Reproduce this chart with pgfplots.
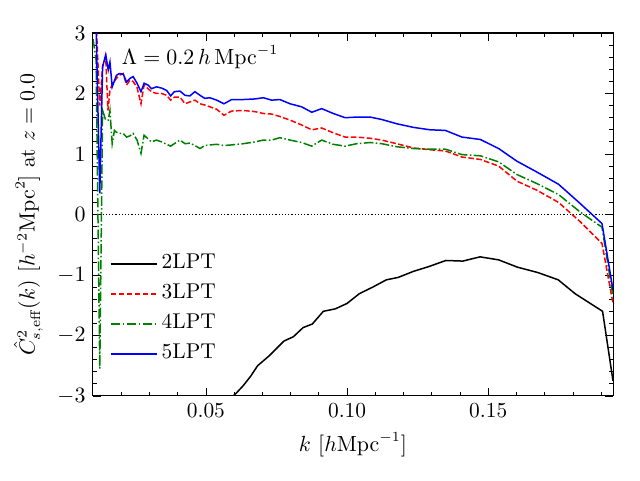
\documentclass[border=0pt]{standalone}
\usepackage{pgfplots}
\pgfplotsset{compat=1.18}
\definecolor{mplgreen}{rgb}{0,0.5,0}
\begin{document}
\fontsize{10.7}{13}\selectfont
\begin{tikzpicture}
\begin{axis}[
  name=ax,
  scale only axis,
  width=260pt, height=181.5pt,
  xmin=0.01, xmax=0.1942,
  ymin=-3, ymax=3,
  xtick={0.05,0.10,0.15},
  xticklabels={0.05,0.10,0.15},
  minor xtick={0.02,0.03,0.04,0.06,0.07,0.08,0.09,0.11,0.12,0.13,0.14,0.16,0.17,0.18,0.19},
  ytick={-3,-2,-1,0,1,2,3},
  minor y tick num=4,
  tick align=inside,
  tick pos=both,
  major tick length=4pt,
  minor tick length=2pt,
  every tick/.style={black, line width=0.4pt},
  axis line style={line width=0.5pt},
  xlabel={$k$ $[h\mathrm{Mpc}^{-1}]$},
  ylabel={$\hat{C}^2_{s,\mathrm{eff}}(k)$ $[h^{-2}\mathrm{Mpc}^2]$ at $z=0.0$},
  legend style={draw=none, fill=none, at={(0.02,0.066)}, anchor=south west,
    row sep=1pt, font=\fontsize{10.7}{13}\selectfont,
    nodes={inner sep=2pt, text height=7.5pt, text depth=2.5pt}},
  legend cell align=left,
  legend image post style={xscale=1.35, line width=0.9pt},
]
\addplot[black, line width=0.75pt] coordinates {
(0.0570,-3.15) (0.0596,-3.0) (0.0608,-2.95) (0.0632,-2.83) (0.0659,-2.67) (0.0683,-2.50)
(0.0723,-2.34) (0.0777,-2.09) (0.0810,-2.02) (0.0844,-1.87) (0.0877,-1.81) (0.0916,-1.60)
(0.0958,-1.56) (0.1000,-1.47) (0.1043,-1.31) (0.1091,-1.20) (0.1139,-1.08) (0.1181,-1.04)
(0.1235,-0.94) (0.1290,-0.86) (0.1350,-0.76) (0.1410,-0.77) (0.1471,-0.70) (0.1537,-0.75)
(0.1603,-0.87) (0.1676,-0.96) (0.1748,-1.08) (0.1808,-1.31) (0.1905,-1.60) (0.1942,-2.75)
};
\addlegendentry{2LPT}
\addplot[red, line width=0.75pt, dash pattern=on 2.8pt off 1.2pt] coordinates {
(0.0100,3.3) (0.0112,3.1) (0.0124,1.80) (0.0134,2.45) (0.0145,2.60) (0.0153,1.72)
(0.0160,2.05) (0.0168,2.15) (0.0183,2.25) (0.0193,2.30) (0.0207,2.33) (0.0219,2.14)
(0.0231,2.22) (0.0242,2.20) (0.0256,2.10) (0.0270,1.83) (0.0281,2.14) (0.0295,2.08)
(0.0307,2.03) (0.0325,2.00) (0.0343,2.00) (0.0361,1.97) (0.0375,1.89) (0.0388,1.94)
(0.0408,1.94) (0.0426,1.83) (0.0443,1.86) (0.0461,1.89) (0.0479,1.83) (0.0496,1.81)
(0.0514,1.78) (0.0538,1.74) (0.0564,1.64) (0.0591,1.71) (0.0632,1.72) (0.0674,1.70)
(0.0703,1.67) (0.0733,1.66) (0.0762,1.62) (0.0798,1.56) (0.0839,1.48) (0.0875,1.40)
(0.0910,1.43) (0.0951,1.35) (0.0993,1.28) (0.1034,1.28) (0.1082,1.26) (0.1123,1.23)
(0.1176,1.17) (0.1235,1.10) (0.1294,1.07) (0.1348,1.05) (0.1407,0.95) (0.1472,0.91)
(0.1537,0.80) (0.1602,0.55) (0.1673,0.40) (0.1749,0.20) (0.1826,-0.12) (0.1903,-0.48)
(0.1942,-1.47)
};
\addlegendentry{3LPT}
\addplot[mplgreen, line width=0.75pt, dash pattern=on 4.8pt off 1.2pt on 0.75pt off 1.2pt] coordinates {
(0.0100,2.9) (0.0111,2.55) (0.0124,-2.55) (0.0134,1.72) (0.0145,1.56) (0.0154,1.56)
(0.0160,1.72) (0.0168,1.17) (0.0176,1.39) (0.0183,1.36) (0.0193,1.34) (0.0207,1.34)
(0.0219,1.28) (0.0231,1.30) (0.0242,1.34) (0.0256,1.23) (0.0270,1.01) (0.0281,1.31)
(0.0295,1.25) (0.0307,1.20) (0.0325,1.23) (0.0343,1.20) (0.0361,1.16) (0.0375,1.13)
(0.0388,1.17) (0.0408,1.23) (0.0426,1.17) (0.0443,1.18) (0.0461,1.14) (0.0479,1.09)
(0.0496,1.14) (0.0514,1.15) (0.0538,1.16) (0.0564,1.14) (0.0591,1.15) (0.0632,1.17)
(0.0674,1.20) (0.0703,1.23) (0.0733,1.23) (0.0762,1.27) (0.0798,1.23) (0.0839,1.19)
(0.0875,1.13) (0.0910,1.23) (0.0951,1.16) (0.0993,1.13) (0.1034,1.17) (0.1082,1.19)
(0.1123,1.17) (0.1176,1.12) (0.1235,1.09) (0.1294,1.08) (0.1348,1.08) (0.1407,0.99)
(0.1472,0.97) (0.1537,0.87) (0.1602,0.66) (0.1673,0.51) (0.1749,0.33) (0.1826,0.04)
(0.1903,-0.21) (0.1942,-1.35)
};
\addlegendentry{4LPT}
\addplot[blue, line width=0.75pt] coordinates {
(0.0100,3.3) (0.0111,3.1) (0.0124,0.35) (0.0134,2.44) (0.0145,2.64) (0.0154,2.39)
(0.0160,2.52) (0.0168,2.11) (0.0183,2.30) (0.0193,2.33) (0.0207,2.32) (0.0219,2.19)
(0.0231,2.25) (0.0242,2.28) (0.0256,2.17) (0.0270,2.03) (0.0281,2.17) (0.0295,2.14)
(0.0307,2.08) (0.0325,2.11) (0.0343,2.09) (0.0361,2.05) (0.0375,1.96) (0.0388,2.03)
(0.0408,2.04) (0.0426,1.97) (0.0443,1.96) (0.0461,2.03) (0.0479,1.97) (0.0496,1.92)
(0.0514,1.93) (0.0538,1.89) (0.0564,1.83) (0.0591,1.90) (0.0632,1.90) (0.0674,1.91)
(0.0703,1.93) (0.0733,1.89) (0.0762,1.90) (0.0798,1.83) (0.0839,1.78) (0.0875,1.69)
(0.0910,1.75) (0.0951,1.67) (0.0993,1.60) (0.1034,1.61) (0.1082,1.61) (0.1123,1.57)
(0.1176,1.50) (0.1235,1.44) (0.1294,1.40) (0.1348,1.39) (0.1407,1.28) (0.1472,1.24)
(0.1537,1.09) (0.1602,0.88) (0.1673,0.70) (0.1749,0.50) (0.1826,0.18) (0.1903,-0.15)
(0.1942,-1.25)
};
\addlegendentry{5LPT}
\addplot[black, line width=0.5pt, dash pattern=on 0.6pt off 1pt, forget plot] coordinates {(0.01,0) (0.1942,0)};
\node[anchor=west, inner sep=0pt] at (rel axis cs:0.055,0.934) {$\Lambda = 0.2\,h\,\mathrm{Mpc}^{-1}$};
\end{axis}
\pgfresetboundingbox
\path (ax.south west) ++(-46.5pt,-42pt) coordinate (bl);
\path (ax.north east) ++(13.5pt,16.5pt) coordinate (tr);
\path[use as bounding box] (bl) rectangle (tr);
\end{tikzpicture}
\end{document}
